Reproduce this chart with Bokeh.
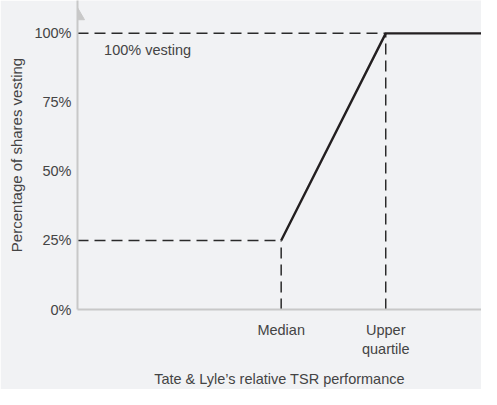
from bokeh.plotting import figure
from bokeh.models import FixedTicker, Label
from bokeh.embed import file_html
from bokeh.resources import INLINE

# ---- data ----
pct_ticks = [0, 25, 50, 75, 100]
pct_labels = ["0%", "25%", "50%", "75%", "100%"]
perf_ticks = [50, 75]
perf_labels = ["Median", "Upper\nquartile"]
median_x = 50
uq_x = 75
vest_at_median = 25
vest_at_uq = 100

X0, X1 = 1.3, 97.9
Y0, Y1 = 0, 111.9
BG = "#f1f2f4"
FONT = "Liberation Sans"
TXT = "#444444"
AX = "#c8c8c8"

p = figure(width=481, height=389, output_backend="svg", toolbar_location=None,
           x_range=(X0, X1), y_range=(Y0, Y1),
           min_border_left=77, min_border_right=0, min_border_top=0, min_border_bottom=78)
p.background_fill_color = BG
p.border_fill_color = BG
p.outline_line_color = None
p.grid.visible = False

# y axis
ya = p.yaxis[0]
ya.ticker = FixedTicker(ticks=pct_ticks)
ya.major_label_overrides = {t: l for t, l in zip(pct_ticks, pct_labels)}
ya.axis_line_color = AX
ya.axis_line_width = 2
ya.major_tick_line_color = None
ya.minor_tick_line_color = None
ya.major_tick_out = 0
ya.major_tick_in = 0
ya.major_label_standoff = 6
ya.major_label_text_font = FONT
ya.major_label_text_font_size = "14.5px"
ya.major_label_text_color = TXT
ya.axis_label = "Percentage of shares vesting"
ya.axis_label_text_font = FONT
ya.axis_label_text_font_size = "15px"
ya.axis_label_text_font_style = "normal"
ya.axis_label_text_color = TXT
ya.axis_label_standoff = 6

# x axis
xa = p.xaxis[0]
xa.ticker = FixedTicker(ticks=perf_ticks)
xa.major_label_overrides = {t: l for t, l in zip(perf_ticks, perf_labels)}
xa.axis_line_color = AX
xa.axis_line_width = 2
xa.major_tick_line_color = None
xa.minor_tick_line_color = None
xa.major_tick_out = 0
xa.major_tick_in = 0
xa.major_label_standoff = 12
xa.major_label_text_font = FONT
xa.major_label_text_font_size = "14.5px"
xa.major_label_text_color = TXT
xa.axis_label = "Tate & Lyle\u2019s relative TSR performance"
xa.axis_label_text_font = FONT
xa.axis_label_text_font_size = "14.5px"
xa.axis_label_text_font_style = "normal"
xa.axis_label_text_color = TXT
xa.axis_label_standoff = 11

# y axis arrow head
p.scatter([X0], [106.4], marker="triangle", size=14, fill_color=AX, line_color=AX)

DASH = "11 6"
DC = "#2a2a2a"
# dashed guides
p.line([X0, median_x], [vest_at_median, vest_at_median], line_dash=DASH, line_color=DC, line_width=1.5)
p.line([median_x, median_x], [0, vest_at_median], line_dash=DASH, line_color=DC, line_width=1.5)
p.line([X0, uq_x], [vest_at_uq, vest_at_uq], line_dash=DASH, line_color=DC, line_width=1.5)
p.line([uq_x, uq_x], [0, vest_at_uq], line_dash=DASH, line_color=DC, line_width=1.5)

# vesting schedule
p.line([median_x, uq_x, X1], [vest_at_median, vest_at_uq, vest_at_uq],
       line_color="#231f20", line_width=2.4)

p.add_layout(Label(x=7.66, y=93.9, text="100% vesting", text_font=FONT,
                   text_font_size="14.5px", text_color=TXT, text_baseline="middle"))

html = file_html(p, INLINE)
html = html.replace("<body>", '<body style="background:%s">' % BG, 1)
open("out.html", "w").write(html)
